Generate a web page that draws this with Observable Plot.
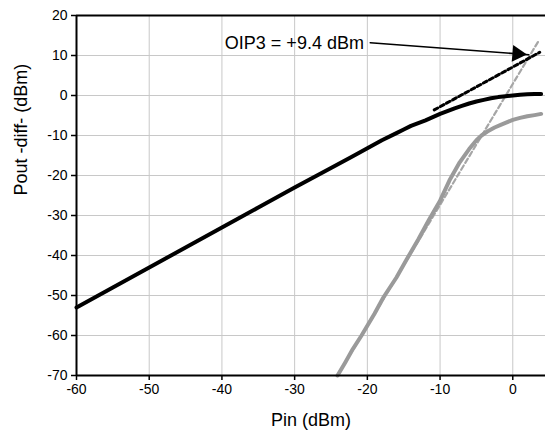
<!DOCTYPE html>
<html>
<head>
<meta charset="utf-8">
<script src="https://cdn.jsdelivr.net/npm/d3@7"></script>
<script src="https://cdn.jsdelivr.net/npm/@observablehq/plot@0.6"></script>
<style>
  html, body { margin: 0; padding: 0; background: #fff; }
  #chart { width: 547px; height: 436px; }
</style>
</head>
<body>
<div id="chart"></div>
<script>
// Measured fundamental output (black thick)
const pinFund  = [-60, -55, -50, -45, -40, -35, -30, -25, -22, -20, -18, -16, -15, -14, -13, -12, -11, -10, -9, -8, -7, -6, -5, -4, -3, -2, -1, 0, 1, 2, 3, 3.9];
const poutFund = [-53, -48, -43, -38, -33, -28, -23, -18.1, -15.2, -13.2, -11.2, -9.4, -8.5, -7.6, -6.9, -6.2, -5.4, -4.6, -3.9, -3.2, -2.6, -2.0, -1.5, -1.1, -0.7, -0.4, -0.2, 0.0, 0.2, 0.3, 0.4, 0.4];
// Measured IM3 output (gray thick)
const pinIM3   = [-24.1, -23, -22, -20.8, -19, -17.8, -16, -14.6, -13, -11.5, -10, -8.7, -7.3, -6, -5, -4.3, -3.5, -2.5, -1.5, 0, 1, 2, 3, 3.9];
const poutIM3  = [-70, -66.6, -63.4, -60, -54.5, -50.5, -45.5, -41, -36, -31, -26.3, -21.2, -16.7, -13.4, -11.2, -10, -9, -8, -7.2, -6.1, -5.6, -5.2, -4.9, -4.6];
// Extrapolations (dashed)
const pinFundExt  = [-10.8, 3.7];
const poutFundExt = [-3.6, 10.8];
const pinIM3Ext   = [-24.1, 3.6];
const poutIM3Ext  = [-70, 13.8];
// Ticks
const xTicks = [-60, -50, -40, -30, -20, -10, 0];
const yTicks = [-70, -60, -50, -40, -30, -20, -10, 0, 10, 20];
// Annotation
const noteText = ["OIP3 = +9.4 dBm"];
const noteX = [-39.6];
const noteY = [13];
const arrowFrom = [-19.6, 13.2];
const arrowTo = [2.2, 10.2];

const fund = pinFund.map((x, i) => ({x, y: poutFund[i]}));
const im3 = pinIM3.map((x, i) => ({x, y: poutIM3[i]}));
const fundExt = pinFundExt.map((x, i) => ({x, y: poutFundExt[i]}));
const im3Ext = pinIM3Ext.map((x, i) => ({x, y: poutIM3Ext[i]}));
const arrowPts = [{x: arrowFrom[0], y: arrowFrom[1]}, {x: arrowTo[0], y: arrowTo[1]}];

const font = "'Liberation Sans', Arial, sans-serif";

const chart = Plot.plot({
  width: 547,
  height: 436,
  marginLeft: 76,
  marginRight: 2,
  marginTop: 15,
  marginBottom: 61,
  style: {fontFamily: font, fontSize: "14px", background: "#fff", color: "#000"},
  x: {domain: [-60, 4.5]},
  y: {domain: [-70, 20]},
  marks: [
    Plot.gridX(xTicks, {stroke: "#c8c8c8", strokeOpacity: 1, strokeWidth: 1}),
    Plot.gridY(yTicks, {stroke: "#c8c8c8", strokeOpacity: 1, strokeWidth: 1}),
    Plot.axisX(xTicks, {tickSize: 5, tickPadding: 4, tickFormat: d => String(d), fontSize: 14, label: null, stroke: "#000", strokeWidth: 1.5}),
    Plot.axisY(yTicks, {tickSize: 5, tickPadding: 4, tickFormat: d => String(d), fontSize: 14, label: null, stroke: "#000", strokeWidth: 1.5}),
    Plot.line(im3Ext, {x: "x", y: "y", stroke: "#a6a6a6", strokeWidth: 2.2, strokeDasharray: "5 3"}),
    Plot.line(im3, {x: "x", y: "y", stroke: "#9a9a9a", strokeWidth: 4, strokeLinejoin: "round"}),
    Plot.line(fund, {x: "x", y: "y", stroke: "#000", strokeWidth: 4, strokeLinejoin: "round"}),
    Plot.line(fundExt, {x: "x", y: "y", stroke: "#000", strokeWidth: 3, strokeDasharray: "4 3"}),
    Plot.ruleX([-60], {stroke: "#000", strokeWidth: 2}),
    Plot.ruleY([-70], {stroke: "#000", strokeWidth: 2}),
    Plot.ruleY([20], {stroke: "#000", strokeWidth: 2}),
    Plot.line(arrowPts, {x: "x", y: "y", stroke: "#000", strokeWidth: 1.6}),
    Plot.dot([arrowTo], {x: d => d[0], y: d => d[1], symbol: "triangle2", r: 8, fill: "#000", stroke: "none", rotate: 95, dx: -11.5, dy: -1}),
    Plot.text(noteText, {x: noteX, y: noteY, text: d => d, textAnchor: "start", fontSize: 18, fill: "#000"}),
    Plot.text(["Pin (dBm)"], {frameAnchor: "bottom", dy: 50, fontSize: 18, fill: "#000"}),
    Plot.text(["Pout -diff- (dBm)"], {frameAnchor: "left", dx: -55, rotate: -90, fontSize: 18, fill: "#000"})
  ]
});
document.getElementById("chart").appendChild(chart);
</script>
</body>
</html>
